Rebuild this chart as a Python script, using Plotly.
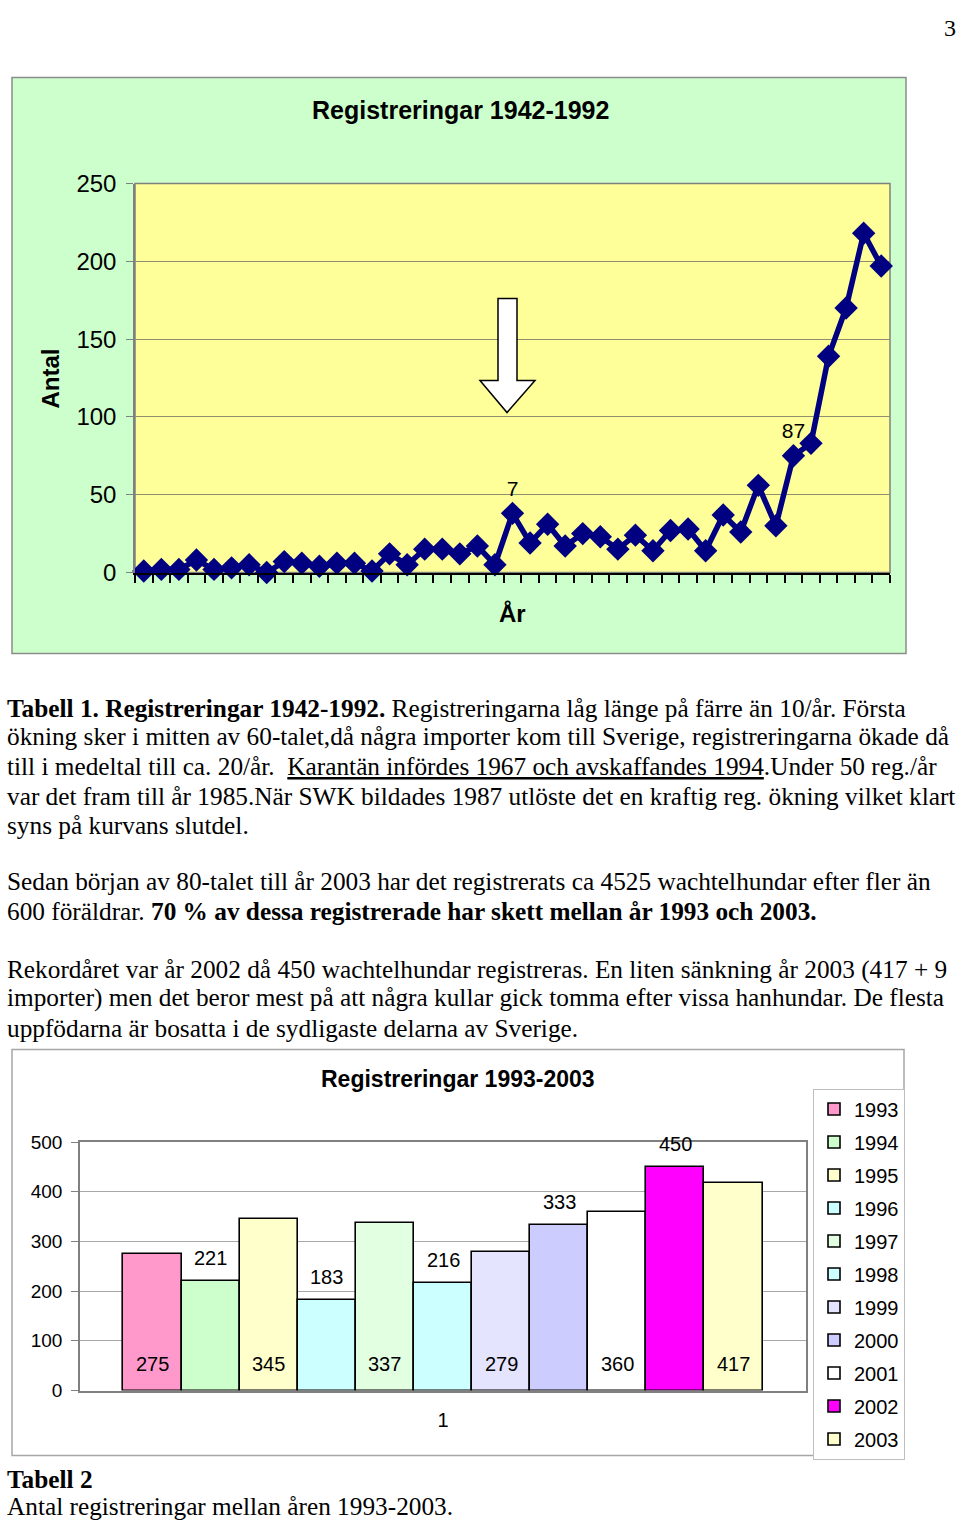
import plotly.graph_objects as go

W, H = 960, 1523

# ---------------- Chart 1: Registreringar 1942-1992 ----------------
obs_index = list(range(1, 44))  # the 43 plotted points on the category axis
registrations = [1, 2, 2, 8, 2, 3, 5, 0, 7, 6, 4, 6, 6, 1, 12, 5, 15, 15, 12, 17, 5,
                 38, 19, 31, 17, 25, 23, 15, 24, 14, 27, 28, 14, 37, 26, 56, 30, 75,
                 83, 139, 170, 218, 197]
label_points = {22: "7", 38: "87"}  # data labels shown in the original
point_labels = [label_points.get(i, "") for i in obs_index]
y_ticks1 = [0, 50, 100, 150, 200, 250]

# ---------------- Chart 2: Registreringar 1993-2003 ----------------
years2 = ["1993", "1994", "1995", "1996", "1997", "1998", "1999", "2000", "2001", "2002", "2003"]
counts2 = [275, 221, 345, 183, 337, 216, 279, 333, 360, 450, 417]
colors2 = ["#FF99CC", "#CCFFCC", "#FFFFCC", "#CCFFFF", "#E2FFE2", "#CCFFFF",
           "#E4E4FF", "#CCCCFF", "#FFFFFF", "#FF00FF", "#FFFFCC"]
y_ticks2 = [0, 100, 200, 300, 400, 500]

SANS = "Liberation Sans, Arial, sans-serif"
SERIF = "Liberation Serif, Times New Roman, serif"
NAVY = "#000080"

# page-pixel -> paper helpers (vertical span calibrated to the rendered page)
TOP, SPAN = 13.5, 1496.0


def px(x):
    return x / W


def py(y):
    return (TOP + SPAN - y) / SPAN


fig = go.Figure()

fig.add_trace(go.Scatter(
    x=obs_index, y=registrations, mode="lines+markers+text",
    text=point_labels, textposition="top center",
    textfont=dict(family=SANS, size=21, color="black"),
    line=dict(color=NAVY, width=5.5),
    marker=dict(symbol="diamond", size=18, color=NAVY),
    cliponaxis=False, showlegend=False, xaxis="x", yaxis="y", hoverinfo="x+y"))

bar_pos = list(range(len(years2)))
for i, (yr, val, col) in enumerate(zip(years2, counts2, colors2)):
    fig.add_trace(go.Bar(
        x=[bar_pos[i]], y=[val], width=1, name=yr, legendgroup=yr,
        marker=dict(color=col, line=dict(color="black", width=1.6)),
        xaxis="x2", yaxis="y2"))

annotations = []
for i, val in enumerate(counts2):
    inside = (i % 2 == 0)
    annotations.append(dict(
        x=bar_pos[i], y=0 if inside else val, xref="x2", yref="y2",
        xanchor="center", yanchor="middle",
        text=str(val), showarrow=False, yshift=27 if inside else 23,
        font=dict(family=SANS, size=20, color="black")))


def note(x, y, text, size, family=SANS, **kw):
    d = dict(x=px(x), y=py(y), xref="paper", yref="paper", text=text, showarrow=False,
             xanchor="center", yanchor="middle", font=dict(family=family, size=size, color="black"))
    d.update(kw)
    return d


annotations += [
    note(460, 110, "<b>Registreringar 1942-1992</b>", 25),
    note(50, 378, "<b>Antal</b>", 24, textangle=-90),
    note(512, 613, "<b>År</b>", 24),
    note(458, 1078, "<b>Registreringar 1993-2003</b>", 23),
    note(950, 27, "3", 24, family=SERIF),
]

text_lines = [
    (707, "<b>Tabell 1. Registreringar 1942-1992.</b> Registreringarna låg länge på färre än 10/år. Första"),
    (736, "ökning sker i mitten av 60-talet,då några importer kom till Sverige, registreringarna ökade då"),
    (765, "till i medeltal till ca. 20/år.\u00a0 <u>Karantän infördes 1967 och avskaffandes 1994</u>.Under 50 reg./år"),
    (795, "var det fram till år 1985.När SWK bildades 1987 utlöste det en kraftig reg. ökning vilket klart"),
    (824, "syns på kurvans slutdel."),
    (881, "Sedan början av 80-talet till år 2003 har det registrerats ca 4525 wachtelhundar efter fler än"),
    (910, "600 föräldrar. <b>70 % av dessa registrerade har skett mellan år 1993 och 2003.</b>"),
    (969, "Rekordåret var år 2002 då 450 wachtelhundar registreras. En liten sänkning år 2003 (417 + 9"),
    (997, "importer) men det beror mest på att några kullar gick tomma efter vissa hanhundar. De flesta"),
    (1027, "uppfödarna är bosatta i de sydligaste delarna av Sverige."),
    (1478, "<b>Tabell 2</b>"),
    (1505, "Antal registreringar mellan åren 1993-2003."),
]
for yc, t in text_lines:
    annotations.append(note(5, yc, t, 25.3, family=SERIF, xanchor="left"))

# arrow (white, black outline)
arrow_pts = [(498, 298), (517, 298), (517, 380), (535, 380), (507, 412), (480, 380), (498, 380)]
arrow_path = "M " + " L ".join(f"{px(a)},{py(b)}" for a, b in arrow_pts) + " Z"

shapes = [
    dict(type="rect", xref="paper", yref="paper", x0=px(12), x1=px(906), y0=py(653), y1=py(77),
         fillcolor="#CCFFCC", line=dict(color="#8C8C8C", width=1.5), layer="below"),
    dict(type="rect", xref="x domain", yref="y domain", x0=0, x1=1, y0=0, y1=1,
         fillcolor="#FFFF99", line=dict(color="#808080", width=1.5), layer="below"),
    dict(type="rect", xref="paper", yref="paper", x0=px(12), x1=px(904), y0=py(1455), y1=py(1049),
         fillcolor="white", line=dict(color="#A6A6A6", width=1.5), layer="below"),
    dict(type="path", xref="paper", yref="paper", path=arrow_path,
         fillcolor="white", line=dict(color="black", width=1.5), layer="above"),
]

fig.update_layout(
    width=W, height=H, margin=dict(l=0, r=0, t=0, b=0),
    paper_bgcolor="white", plot_bgcolor="rgba(0,0,0,0)",
    font=dict(family=SANS, color="black"),
    showlegend=True,
    legend=dict(x=px(813), y=py(1088), xanchor="left", yanchor="top",
                bgcolor="white", bordercolor="#BFBFBF", borderwidth=1,
                font=dict(family=SANS, size=20, color="black"),
                tracegroupgap=4, traceorder="grouped"),
    xaxis=dict(domain=[px(135), px(890)], range=[0.5, 43.5], tickmode="linear", tick0=0.5, dtick=1,
               ticks="outside", ticklen=8, tickwidth=2, tickcolor="black", showticklabels=False,
               showline=True, linecolor="black", linewidth=2, showgrid=False, zeroline=False,
               anchor="y", fixedrange=True),
    yaxis=dict(domain=[py(572), py(183)], range=[0, 250], tickvals=y_ticks1,
               ticks="outside", ticklen=7, tickcolor="#808080", ticklabelstandoff=5,
               tickfont=dict(family=SANS, size=24, color="black"),
               showline=True, linecolor="#808080", linewidth=1.5,
               showgrid=True, gridcolor="#8F8F70", gridwidth=1, zeroline=False,
               anchor="x", fixedrange=True),
    xaxis2=dict(domain=[px(80), px(806)], range=[-1.248, 11.248],
                tickvals=[sum(bar_pos) / len(bar_pos)], ticktext=["1"], ticks="",
                ticklabelstandoff=11, tickfont=dict(family=SANS, size=20, color="black"),
                showline=True, linecolor="#808080", linewidth=1.5, mirror=True,
                showgrid=False, zeroline=False, anchor="y2", fixedrange=True),
    yaxis2=dict(domain=[py(1390), py(1141.5)], range=[0, 500], tickvals=y_ticks2,
                ticks="outside", ticklen=7, tickcolor="#808080", ticklabelstandoff=5,
                tickfont=dict(family=SANS, size=19, color="black"),
                showline=True, linecolor="#808080", linewidth=1.5, mirror=True,
                showgrid=True, gridcolor="#A8A8A8", gridwidth=1, zeroline=False,
                anchor="x2", fixedrange=True),
    bargap=0, annotations=annotations, shapes=shapes,
)

fig.write_html("out.html")
